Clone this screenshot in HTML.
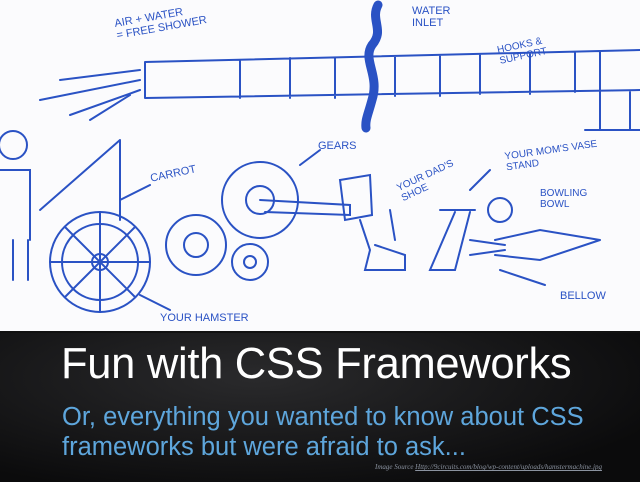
<!DOCTYPE html>
<html><head><style>
body{margin:0;width:640px;height:480px;overflow:hidden;background:#fbfbfd;font-family:"Liberation Sans",sans-serif}
.band{position:absolute;left:0;top:331px;width:640px;height:149px;background:radial-gradient(ellipse at 40% 30%,#2a2a2c,#0b0b0c 80%);border-top:2px solid #111}
.t{position:absolute;left:61px;top:340px;color:#fff;font-size:43.5px;letter-spacing:-0.3px}
.s{position:absolute;left:62px;top:402px;color:#5ea6dc;font-size:25.5px;line-height:30px}
.src{position:absolute;left:375px;top:463px;color:#8b93a0;font-family:"Liberation Serif",serif;font-size:7px;font-style:italic}
</style></head><body>
<svg width="640" height="331" style="position:absolute;left:0;top:0" fill="none" stroke="#2a52c4" stroke-width="2" stroke-linecap="round">
<path d="M145 62 L640 50 M145 98 L640 90 M145 62 L145 98 M240 60 L240 98 M290 58 L290 98 M335 58 L335 98 M395 57 L395 96 M440 56 L440 96 M480 55 L480 94 M530 54 L530 94 M575 52 L575 92 M600 52 L600 92"/>
<path d="M600 92 L600 130 M630 92 L630 130 M585 130 L640 130"/>
<path d="M378 5 C370 20 385 30 372 45 C362 60 380 75 372 100 C368 115 365 120 366 128" stroke-width="9"/>
<path d="M140 70 L60 80 M140 80 L40 100 M140 90 L70 115 M130 95 L90 120"/>
<circle cx="13" cy="145" r="14"/>
<path d="M0 170 L30 170 L30 240 M13 240 L13 280 M28 240 L28 280"/>
<path d="M40 210 L120 140 M120 140 L120 220"/>
<circle cx="100" cy="262" r="50"/><circle cx="100" cy="262" r="38"/><circle cx="100" cy="262" r="8"/>
<path d="M100 212 L100 312 M50 262 L150 262 M65 227 L135 297 M135 227 L65 297"/>
<circle cx="196" cy="245" r="30"/><circle cx="196" cy="245" r="12"/>
<circle cx="260" cy="200" r="38"/><circle cx="260" cy="200" r="14"/>
<circle cx="250" cy="262" r="18"/><circle cx="250" cy="262" r="6"/>
<path d="M260 200 L350 205 L350 215 L265 212 M340 180 L370 175 L372 215 L345 220 Z M360 220 L370 250 L365 270 L405 270 L405 255 L375 245"/>
<path d="M440 210 L475 210 M455 212 L430 270 L455 270 L470 212"/>
<circle cx="500" cy="210" r="12"/>
<path d="M495 240 L540 230 L600 240 M495 255 L540 260 L600 240 M505 245 L470 240 M505 250 L470 255"/>
<path d="M170 310 L140 295 M500 270 L545 285 M490 170 L470 190 M300 165 L320 150 M390 210 L395 240 M150 185 L120 200"/>
</svg>
<div style="position:absolute;left:115px;top:10px;color:#2a52c4;font-size:11px;transform:rotate(-10deg)">AIR + WATER<br>= FREE SHOWER</div>
<div style="position:absolute;left:412px;top:5px;color:#2a52c4;font-size:11px">WATER<br>INLET</div>
<div style="position:absolute;left:498px;top:40px;color:#2a52c4;font-size:10px;transform:rotate(-12deg)">HOOKS &amp;<br>SUPPORT</div>
<div style="position:absolute;left:318px;top:140px;color:#2a52c4;font-size:11px">GEARS</div>
<div style="position:absolute;left:150px;top:168px;color:#2a52c4;font-size:11px;transform:rotate(-12deg)">CARROT</div>
<div style="position:absolute;left:397px;top:170px;color:#2a52c4;font-size:10px;transform:rotate(-25deg)">YOUR DAD'S<br>SHOE</div>
<div style="position:absolute;left:505px;top:145px;color:#2a52c4;font-size:10px;transform:rotate(-8deg)">YOUR MOM'S VASE<br>STAND</div>
<div style="position:absolute;left:540px;top:188px;color:#2a52c4;font-size:10px">BOWLING<br>BOWL</div>
<div style="position:absolute;left:560px;top:290px;color:#2a52c4;font-size:11px">BELLOW</div>
<div style="position:absolute;left:160px;top:312px;color:#2a52c4;font-size:11px">YOUR HAMSTER</div>
<div class="band"></div>
<div class="t">Fun with CSS Frameworks</div>
<div class="s">Or, everything you wanted to know about CSS<br>frameworks but were afraid to ask...</div>
<div class="src">Image Source <u>Http://9circuits.com/blog/wp-content/uploads/hamstermachine.jpg</u></div>
</body></html>
